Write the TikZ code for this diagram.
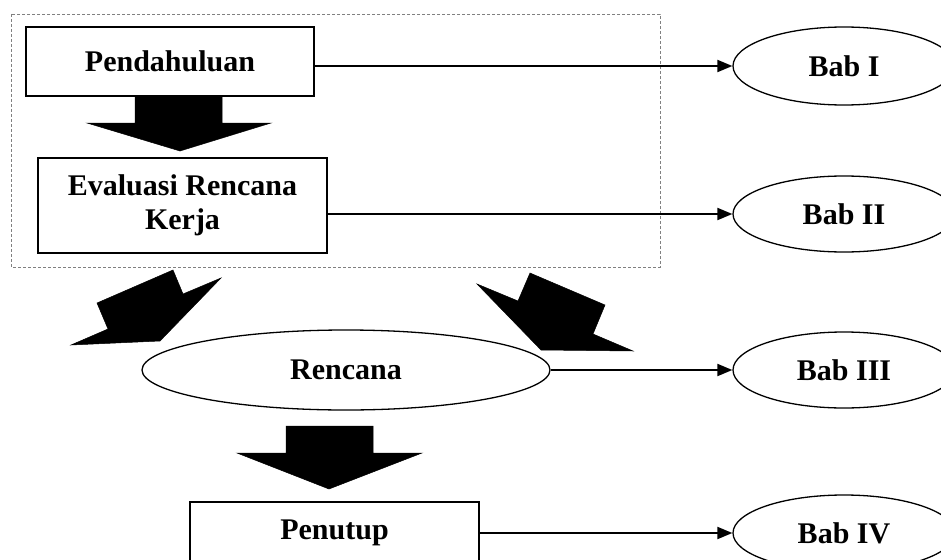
\documentclass[tikz,border=0pt]{standalone}
\usepackage{fontspec}
\setmainfont{Liberation Serif}
\usetikzlibrary{shapes.geometric,arrows.meta}
\begin{document}
\begin{tikzpicture}[x=1pt,y=-1pt,
  every node/.style={font=\bfseries\fontsize{30}{34}\selectfont, inner sep=0pt},
  box/.style={draw, line width=2pt, minimum width=#1},
  oval/.style={draw, ellipse, line width=1.3pt},
  conn/.style={line width=2pt, -{Triangle[length=15pt,width=12pt]}},
  blockarrow/.style={fill=black, draw=black, line width=0.5pt},
  group/.style={draw=gray, densely dashed, line width=0.7pt}
]
\useasboundingbox (0,0) rectangle (941,559);
% grouping frame
\draw[group] (11,14) rectangle (660,267);
% boxes
\node[box=288pt, minimum height=69pt] (pend) at (170,61.5) {Pendahuluan};
\node[box=289pt, minimum height=95pt, align=center] (eval) at (182.5,205.5) {Evaluasi Rencana\\Kerja};
\node[oval, minimum width=408pt, minimum height=80pt] (renc) at (346,370) {Rencana};
\node[box=289pt, minimum height=62pt] (penu) at (334.5,533) {Penutup};
% Bab ellipses
\node[oval, minimum width=222pt, minimum height=78pt] (b1) at (844,66) {Bab I};
\node[oval, minimum width=222pt, minimum height=76pt] (b2) at (844,214) {Bab II};
\node[oval, minimum width=222pt, minimum height=76pt] (b3) at (844,370) {Bab III};
\node[oval, minimum width=222pt, minimum height=76pt] (b4) at (844,533) {Bab IV};
% connectors
\draw[conn] (pend.east |- b1.west) -- (b1.west);
\draw[conn] (eval.east |- b2.west) -- (b2.west);
\draw[conn] (renc.east) -- (b3.west);
\draw[conn] (penu.east |- b4.west) -- (b4.west);
% block arrows
\fill[blockarrow] (135,96) -- (222,96) -- (222,123) -- (271,123) -- (180,151) -- (87,123) -- (135,123) -- cycle;
\fill[blockarrow] (286,426) -- (373,426) -- (373,453) -- (422,453) -- (329,489) -- (237,453) -- (286,453) -- cycle;
\fill[blockarrow] (173,270) -- (183,294) -- (221,278) -- (160,341) -- (71,345) -- (108,329) -- (97,303) -- cycle;
\fill[blockarrow] (530,273) -- (518,301) -- (477,284) -- (541,350) -- (633,351) -- (593,334) -- (605,305) -- cycle;
\end{tikzpicture}
\end{document}
